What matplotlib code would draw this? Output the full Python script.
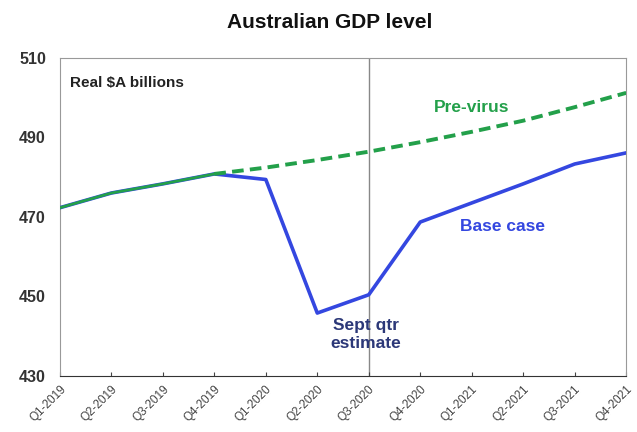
import matplotlib.pyplot as plt
import matplotlib.transforms as mtrans
import numpy as np

plt.rcParams['font.family'] = ['Liberation Sans', 'DejaVu Sans']

# donnees
quarters = ['Q1-2019', 'Q2-2019', 'Q3-2019', 'Q4-2019', 'Q1-2020', 'Q2-2020',
            'Q3-2020', 'Q4-2020', 'Q1-2021', 'Q2-2021', 'Q3-2021', 'Q4-2021']
base_case = [472.3, 476.0, 478.3, 480.8, 479.4, 445.8,
             450.4, 468.7, 473.5, 478.3, 483.3, 486.1]
pre_virus = [472.3, 476.0, 478.3, 480.8, 482.4, 484.3,
             486.4, 488.8, 491.4, 494.2, 497.6, 501.2]
y_ticks = [430, 450, 470, 490, 510]

blue = '#3447e0'
green = '#23a04a'
navy = '#2c3878'

fig = plt.figure(figsize=(6.37, 4.32), dpi=100)
ax = fig.add_axes([0.094, 0.130, 0.889, 0.736])

x = np.arange(len(quarters))
ax.plot(x, base_case, color=blue, lw=2.6, zorder=3)
ax.plot(x[:4], pre_virus[:4], color=green, lw=2.0, zorder=4)
ax.plot(x[3:], pre_virus[3:], color=green, lw=2.8, ls=(0, (3, 1.6)), zorder=4)
ax.axvline(6, color='#888888', lw=1.0, zorder=1)

ax.set_xlim(0, 11)
ax.set_ylim(430, 510)
ax.set_yticks(y_ticks)
ax.set_xticks(x)
ax.set_xticklabels(quarters, rotation=45, ha='right', rotation_mode='anchor',
                   fontsize=8.5, color='#444444')
# decalage des etiquettes vers la gauche
decal = mtrans.ScaledTranslation(-6 / 100, 0, fig.dpi_scale_trans)
for lab in ax.get_xticklabels():
    lab.set_transform(lab.get_transform() + decal)
ax.tick_params(axis='x', direction='in', length=3, pad=5, color='#444444')
ax.tick_params(axis='y', length=0, pad=10, labelsize=11.5, labelcolor='#333333')
for lab in ax.get_yticklabels():
    lab.set_fontweight('bold')
for s in ['top', 'right', 'left']:
    ax.spines[s].set_color('#999999')
ax.spines['bottom'].set_color('#333333')

fig.text(0.518, 0.948, 'Australian GDP level', fontsize=15, fontweight='bold',
         ha='center', va='center', color='#111111')
ax.text(0.2, 503.8, 'Real $A billions', fontsize=11, fontweight='bold',
        color='#222222', va='center')
ax.text(8.0, 497.5, 'Pre-virus', fontsize=12.5, fontweight='bold', color=green,
        ha='center', va='center')
ax.text(8.6, 467.5, 'Base case', fontsize=12.5, fontweight='bold', color=blue,
        ha='center', va='center')
ax.text(5.95, 440.3, 'Sept qtr\nestimate', fontsize=12.5, fontweight='bold',
        color=navy, ha='center', va='center', linespacing=1.25)

plt.savefig('out.png', dpi=100)
